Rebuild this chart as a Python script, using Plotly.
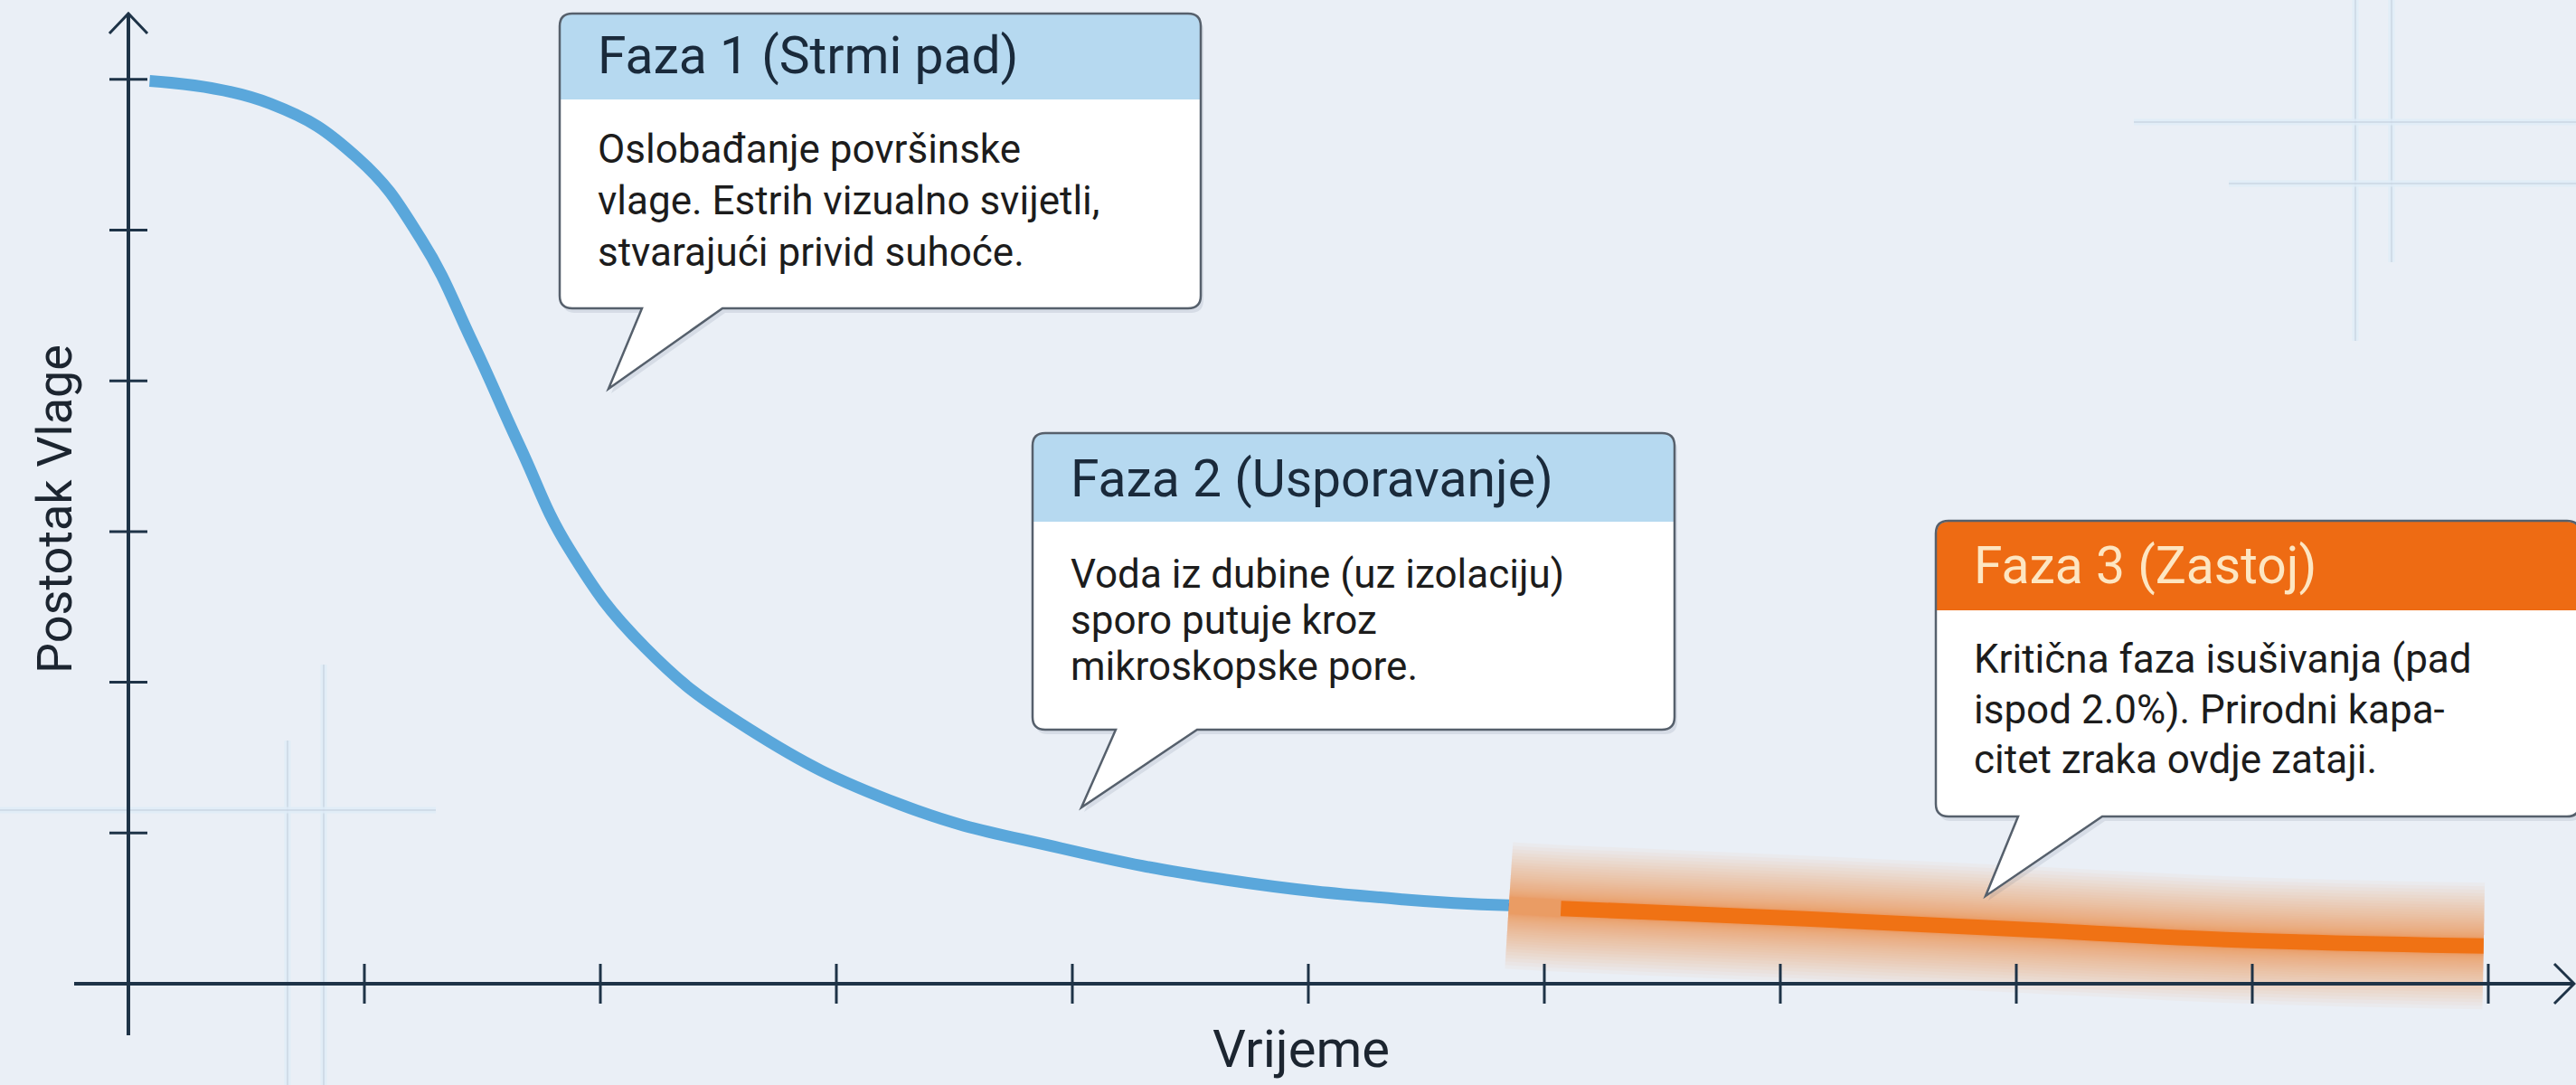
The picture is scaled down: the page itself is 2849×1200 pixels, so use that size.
import plotly.graph_objects as go

# ---------------- data ----------------
time_fast = [0.09, 0.60, 0.97, 1.24, 1.46, 1.66, 1.87, 2.19, 2.63, 3.27, 3.95, 4.65,
             5.40, 5.85]
moisture_fast = [5.99, 5.84, 5.48, 4.94, 4.25, 3.56, 2.88, 2.23, 1.69, 1.19, 0.90, 0.69,
                 0.56, 0.52]
time_stall = [6.07, 7.11, 8.03, 8.94, 9.98]
moisture_stall = [0.50, 0.43, 0.36, 0.29, 0.25]
x_ticks = [1, 2, 3, 4, 5, 6, 7, 8, 9, 10]
y_ticks = [1, 2, 3, 4, 5, 6]

x_title = "Vrijeme"
y_title = "Postotak Vlage"
phase_titles = ["Faza 1 (Strmi pad)", "Faza 2 (Usporavanje)", "Faza 3 (Zastoj)"]
phase_lines = [
    ["Oslobađanje površinske", "vlage. Estrih vizualno svijetli,", "stvarajući privid suhoće."],
    ["Voda iz dubine (uz izolaciju)", "sporo putuje kroz", "mikroskopske pore."],
    ["Kritična faza isušivanja (pad", "ispod 2.0%). Prirodni kapa-", "citet zraka ovdje zataji."],
]

# ---------------- layout geometry ----------------
W, H = 2849, 1200
X0PX, Y0PX = 142.0, 1088.0      # pixel of data origin
XS, YS = 261.0, 166.7           # pixels per data unit
x_range = [-X0PX / XS, (W - X0PX) / XS]
y_range = [(Y0PX - H) / YS, Y0PX / YS]

BG = "#EAEFF6"
AXIS = "#1E3347"
BLUE = "#5AA7DB"
ORANGE = "#F07214"
FONT = "Roboto, Arial, sans-serif"


def px(x):
    return x / W


def py(y):
    return 1 - y / H


def dx(p):
    return (p - X0PX) / XS


def dy(p):
    return (Y0PX - p) / YS


fig = go.Figure()

# main curve (blue)
fig.add_trace(go.Scatter(x=time_fast, y=moisture_fast, mode="lines",
                         line=dict(color=BLUE, width=13, shape="spline", smoothing=1.25),
                         hoverinfo="skip", showlegend=False))

# soft glow around the stall segment (starts where the blue curve ends)
glow_x = [time_fast[-1]] + time_stall
glow_y = [moisture_fast[-1]] + moisture_stall
N = 30
for k in range(N):
    w = 18 + 122 * (1 - k / N) ** 2
    fig.add_trace(go.Scatter(x=glow_x, y=glow_y, mode="lines",
                             line=dict(color="#F6883A", width=w, shape="spline"),
                             opacity=0.04, hoverinfo="skip", showlegend=False))

# orange stall segment
fig.add_trace(go.Scatter(x=time_stall, y=moisture_stall, mode="lines",
                         line=dict(color=ORANGE, width=17, shape="spline"),
                         hoverinfo="skip", showlegend=False))

shapes = []

# decorative background crosshair lines
deco = [("v", 318, 819, 1200), ("v", 358, 735, 1200), ("h", 896, 0, 482),
        ("v", 2605, 0, 377), ("v", 2645, 0, 290), ("h", 135, 2360, 2849), ("h", 203, 2465, 2849)]
for kind, c, a, b in deco:
    if kind == "v":
        coords = dict(x0=px(c), x1=px(c), y0=py(a), y1=py(b))
    else:
        coords = dict(x0=px(a), x1=px(b), y0=py(c), y1=py(c))
    shapes.append(dict(type="line", xref="paper", yref="paper", layer="below",
                       line=dict(color="rgba(222,236,248,0.8)", width=7), **coords))
    shapes.append(dict(type="line", xref="paper", yref="paper", layer="below",
                       line=dict(color="rgba(160,172,190,0.35)", width=1.5), **coords))

# axes lines
shapes.append(dict(type="line", xref="x", yref="y", layer="above",
                   x0=dx(82), x1=dx(2846), y0=0, y1=0, line=dict(color=AXIS, width=4)))
shapes.append(dict(type="line", xref="x", yref="y", layer="above",
                   x0=0, x1=0, y0=dy(1145), y1=dy(15), line=dict(color=AXIS, width=4)))
# arrow heads
shapes.append(dict(type="path", xref="x", yref="y", layer="above",
                   path=f"M{dx(2825)},{dy(1066)} L{dx(2847)},{dy(1088)} L{dx(2825)},{dy(1110)}",
                   line=dict(color=AXIS, width=3)))
shapes.append(dict(type="path", xref="x", yref="y", layer="above",
                   path=f"M{dx(121)},{dy(37)} L{dx(142)},{dy(15)} L{dx(163)},{dy(37)}",
                   line=dict(color=AXIS, width=3)))
# ticks
for t in x_ticks:
    shapes.append(dict(type="line", xref="x", yref="y", ysizemode="pixel", yanchor=0,
                       x0=t, x1=t, y0=-22, y1=22, layer="above",
                       line=dict(color=AXIS, width=3)))
for t in y_ticks:
    shapes.append(dict(type="line", yref="y", xref="x", xsizemode="pixel", xanchor=0,
                       y0=t, y1=t, x0=-21, x1=21, layer="above",
                       line=dict(color=AXIS, width=3)))


# callouts
def _path(pts):
    s = ""
    for seg in pts:
        s += seg[0] + " ".join(f"{px(p[0]):.5f},{py(p[1]):.5f}" for p in seg[1:]) + " "
    return s + "Z"


def outline(x0, y0, x1, y1, tb0, tb1, tip, r=14, ox=0, oy=0):
    x0, x1, tb0, tb1 = x0 + ox, x1 + ox, tb0 + ox, tb1 + ox
    y0, y1 = y0 + oy, y1 + oy
    tx, ty = tip[0] + ox, tip[1] + oy
    return _path([
        ("M", (x0 + r, y0)), ("L", (x1 - r, y0)), ("Q", (x1, y0), (x1, y0 + r)),
        ("L", (x1, y1 - r)), ("Q", (x1, y1), (x1 - r, y1)), ("L", (tb1, y1)),
        ("L", (tx, ty)), ("L", (tb0, y1)), ("L", (x0 + r, y1)),
        ("Q", (x0, y1), (x0, y1 - r)), ("L", (x0, y0 + r)), ("Q", (x0, y0), (x0 + r, y0)),
    ])


def header(x0, y0, x1, hy, r=14):
    return _path([("M", (x0 + 1, hy)), ("L", (x0 + 1, y0 + r)), ("Q", (x0 + 1, y0 + 1), (x0 + r, y0 + 1)),
                  ("L", (x1 - r, y0 + 1)), ("Q", (x1 - 1, y0 + 1), (x1 - 1, y0 + r)), ("L", (x1 - 1, hy))])


boxes = [
    dict(x0=619, y0=15, x1=1328, y1=341, hy=110, tb=(710, 799), tip=(673, 430),
         head="#B6D9F0", tcol="#1A2A3B", ty=62, lines_y=(165, 222, 279)),
    dict(x0=1142, y0=479, x1=1852, y1=807, hy=577, tb=(1234, 1324), tip=(1196, 893),
         head="#B6D9F0", tcol="#1A2A3B", ty=529, lines_y=(635, 686, 737)),
    dict(x0=2141, y0=576, x1=2853, y1=903, hy=675, tb=(2232, 2325), tip=(2196, 991),
         head="#EE6B13", tcol="#FDE6C2", ty=625, lines_y=(729, 785, 840)),
]

annotations = []
for i, b in enumerate(boxes):
    shapes.append(dict(type="path", xref="paper", yref="paper", layer="above",
                       path=outline(b["x0"], b["y0"], b["x1"], b["y1"], b["tb"][0], b["tb"][1],
                                    b["tip"], ox=3, oy=5),
                       fillcolor="rgba(40,60,90,0.10)", line=dict(width=0)))
    shapes.append(dict(type="path", xref="paper", yref="paper", layer="above",
                       path=outline(b["x0"], b["y0"], b["x1"], b["y1"], b["tb"][0], b["tb"][1], b["tip"]),
                       fillcolor="#FFFFFF", line=dict(width=0)))
    shapes.append(dict(type="path", xref="paper", yref="paper", layer="above",
                       path=header(b["x0"], b["y0"], b["x1"], b["hy"]),
                       fillcolor=b["head"], line=dict(width=0)))
    shapes.append(dict(type="path", xref="paper", yref="paper", layer="above",
                       path=outline(b["x0"], b["y0"], b["x1"], b["y1"], b["tb"][0], b["tb"][1], b["tip"]),
                       fillcolor="rgba(0,0,0,0)", line=dict(color="#56606C", width=2.5)))
    annotations.append(dict(xref="paper", yref="paper", x=px(b["x0"] + 40), y=py(b["ty"]),
                            xanchor="left", yanchor="middle", showarrow=False,
                            text=phase_titles[i], font=dict(family=FONT, size=57, color=b["tcol"])))
    for line_text, ly in zip(phase_lines[i], b["lines_y"]):
        annotations.append(dict(xref="paper", yref="paper", x=px(b["x0"] + 40), y=py(ly),
                                xanchor="left", yanchor="middle", showarrow=False, align="left",
                                text=line_text, font=dict(family=FONT, size=44, color="#1C1C1C")))

annotations.append(dict(xref="paper", yref="paper", x=px(1439), y=py(1160), showarrow=False,
                        xanchor="center", yanchor="middle", text=x_title,
                        font=dict(family=FONT, size=58, color="#1C2530")))
annotations.append(dict(xref="paper", yref="paper", x=px(60), y=py(563), showarrow=False,
                        xanchor="center", yanchor="middle", text=y_title, textangle=-90,
                        font=dict(family=FONT, size=54, color="#1C2530")))

fig.update_layout(
    width=W, height=H,
    margin=dict(l=0, r=0, t=0, b=0),
    paper_bgcolor=BG, plot_bgcolor=BG,
    xaxis=dict(range=x_range, visible=False, fixedrange=True),
    yaxis=dict(range=y_range, visible=False, fixedrange=True),
    shapes=shapes, annotations=annotations, showlegend=False,
)

fig.write_html("out.html", config={"displayModeBar": False},
               post_script="document.body.style.margin='0px';document.body.style.overflow='hidden';")
